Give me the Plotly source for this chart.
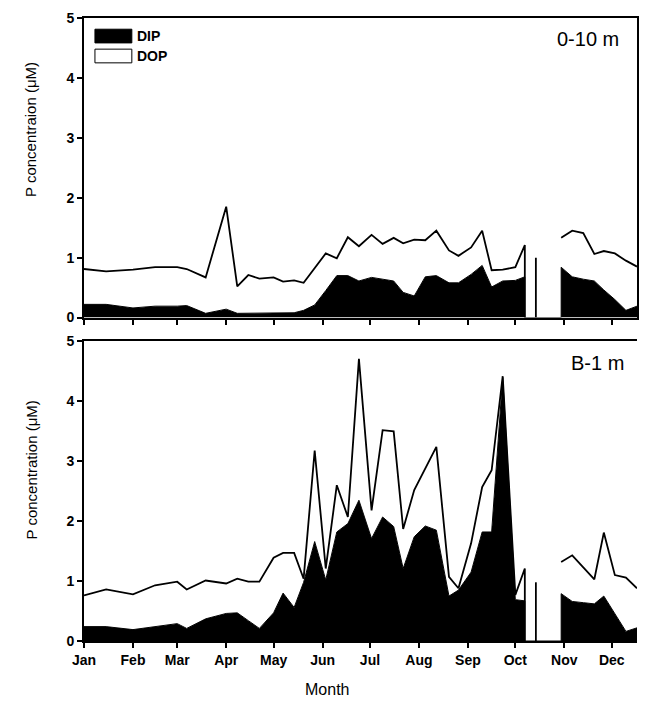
import plotly.graph_objects as go

# ---------------- data ----------------
# sampling dates (the Oct gap is drawn as zero values, with one isolated sample)
dates = [
    "2003-01-01", "2003-01-15", "2003-02-01", "2003-02-15", "2003-03-01", "2003-03-07",
    "2003-03-19", "2003-04-01", "2003-04-08", "2003-04-15", "2003-04-22", "2003-05-01",
    "2003-05-07", "2003-05-14", "2003-05-20", "2003-05-27", "2003-06-03", "2003-06-10",
    "2003-06-17", "2003-06-24", "2003-07-02", "2003-07-09", "2003-07-16", "2003-07-22",
    "2003-07-29", "2003-08-05", "2003-08-12", "2003-08-20", "2003-08-26", "2003-09-03",
    "2003-09-10", "2003-09-16", "2003-09-23", "2003-10-01", "2003-10-07", "2003-10-07",
    "2003-10-14", "2003-10-14", "2003-10-14", "2003-10-30", "2003-10-30", "2003-11-06",
    "2003-11-13", "2003-11-20", "2003-11-26", "2003-12-03", "2003-12-10", "2003-12-17",
]

# 0-10 m layer
dip_surface = [
    0.22, 0.22, 0.16, 0.19, 0.19, 0.20, 0.07, 0.14, 0.07, 0.07, 0.08, 0.07,
    0.08, 0.08, 0.12, 0.21, 0.45, 0.70, 0.70, 0.61, 0.67, 0.64, 0.61, 0.42,
    0.36, 0.68, 0.70, 0.58, 0.58, 0.72, 0.87, 0.51, 0.61, 0.62, 0.68, 0.0,
    0.0, 0.0, 0.0, 0.0, 0.84, 0.68, 0.64, 0.61, 0.46, 0.30, 0.12, 0.19,
]
dop_surface = [
    0.59, 0.55, 0.64, 0.65, 0.65, 0.61, 0.60, 1.71, 0.45, 0.64, 0.57, 0.60,
    0.52, 0.54, 0.46, 0.61, 0.62, 0.29, 0.64, 0.58, 0.71, 0.59, 0.72, 0.82,
    0.94, 0.61, 0.75, 0.54, 0.45, 0.45, 0.58, 0.28, 0.19, 0.22, 0.53, 0.0,
    0.0, 1.00, 0.0, 0.0, 0.49, 0.77, 0.77, 0.45, 0.65, 0.77, 0.83, 0.66,
]

# B-1 m layer
dip_bottom = [
    0.24, 0.24, 0.19, 0.24, 0.29, 0.21, 0.37, 0.46, 0.47, 0.34, 0.21, 0.47,
    0.80, 0.56, 0.98, 1.66, 1.02, 1.82, 1.96, 2.35, 1.71, 2.07, 1.91, 1.21,
    1.74, 1.92, 1.85, 0.75, 0.85, 1.15, 1.82, 1.82, 4.40, 0.69, 0.67, 0.0,
    0.0, 0.0, 0.0, 0.0, 0.79, 0.66, 0.64, 0.62, 0.75, 0.46, 0.16, 0.22,
]
dop_bottom = [
    0.52, 0.62, 0.59, 0.69, 0.70, 0.65, 0.64, 0.50, 0.57, 0.65, 0.78, 0.92,
    0.67, 0.91, 0.06, 1.52, 0.19, 0.78, 0.11, 2.36, 0.47, 1.45, 1.59, 0.66,
    0.78, 0.96, 1.39, 0.32, 0.03, 0.48, 0.75, 1.03, 0.02, 0.08, 0.54, 0.0,
    0.0, 0.98, 0.0, 0.0, 0.53, 0.77, 0.59, 0.41, 1.06, 0.64, 0.90, 0.66,
]

month_labels = ["Jan", "Feb", "Mar", "Apr", "May", "Jun",
                "Jul", "Aug", "Sep", "Oct", "Nov", "Dec"]
y_ticks = [0, 1, 2, 3, 4, 5]

FONT = "Liberation Sans, Arial, sans-serif"
month_vals = [f"2003-{i + 1:02d}-01" for i in range(len(month_labels))]


def outline_of(dip, dop):
    total = [a + b for a, b in zip(dip, dop)]
    outline = list(total)
    # break the outline where sampling resumes after the gap
    for i in range(len(total) - 1):
        if total[i] == 0 and total[i + 1] > 0 and dates[i] == dates[i + 1] and i > 0 and total[i - 1] == 0:
            outline[i] = None
    return total, outline


fig = go.Figure()
for dip, dop, xa, ya in [(dip_surface, dop_surface, "x2", "y2"),
                         (dip_bottom, dop_bottom, "x", "y")]:
    total, outline = outline_of(dip, dop)
    fig.add_trace(go.Scatter(x=dates, y=dip, xaxis=xa, yaxis=ya, mode="lines",
                             fill="tozeroy", fillcolor="black",
                             line=dict(color="black", width=1), showlegend=False,
                             name="DIP"))
    fig.add_trace(go.Scatter(x=dates, y=total, xaxis=xa, yaxis=ya, mode="lines",
                             fill="tonexty", fillcolor="white",
                             line=dict(color="rgba(0,0,0,0)", width=0), showlegend=False,
                             name="DOP"))
    fig.add_trace(go.Scatter(x=dates, y=outline, xaxis=xa, yaxis=ya, mode="lines",
                             connectgaps=False,
                             line=dict(color="black", width=1.8), showlegend=False,
                             hoverinfo="skip"))

xcommon = dict(type="date", range=["2003-01-01", "2003-12-17"],
               tickmode="array", tickvals=month_vals, ticktext=month_labels,
               ticks="outside", ticklen=5, tickwidth=1.5, tickcolor="black",
               showline=True, linecolor="black", linewidth=2,
               showgrid=False, zeroline=False,
               tickfont=dict(family=FONT, size=14, color="black", weight="bold"))
ycommon = dict(range=[0, 5], tickmode="array", tickvals=y_ticks,
               ticks="outside", ticklen=5, tickwidth=1.5, tickcolor="black",
               showline=True, linecolor="black", linewidth=2,
               showgrid=False, zeroline=False,
               tickfont=dict(family=FONT, size=14, color="black", weight="bold"))

fig.update_layout(
    width=649, height=705,
    margin=dict(l=84, r=10, t=17, b=64),
    paper_bgcolor="white", plot_bgcolor="white",
    xaxis=dict(xcommon, domain=[0, 1], anchor="y", mirror=True),
    yaxis=dict(ycommon, domain=[0, 0.4808], anchor="x", mirror=False),
    xaxis2=dict(xcommon, domain=[0, 1], anchor="y2", mirror=True, showticklabels=False),
    yaxis2=dict(ycommon, domain=[0.5192, 1], anchor="x2", mirror=True),
    showlegend=False,
)

# legend drawn in the upper panel
fig.add_shape(type="rect", xref="paper", yref="paper", x0=0.0198, x1=0.0865, y0=0.960, y1=0.982,
              fillcolor="black", line=dict(color="black", width=1))
fig.add_shape(type="rect", xref="paper", yref="paper", x0=0.0198, x1=0.0865, y0=0.928, y1=0.950,
              fillcolor="white", line=dict(color="black", width=1))
fig.add_annotation(text="DIP", xref="paper", yref="paper", x=0.093, y=0.971,
                   xanchor="left", yanchor="middle", showarrow=False,
                   font=dict(family=FONT, size=14, color="black", weight="bold"))
fig.add_annotation(text="DOP", xref="paper", yref="paper", x=0.093, y=0.939,
                   xanchor="left", yanchor="middle", showarrow=False,
                   font=dict(family=FONT, size=14, color="black", weight="bold"))

# panel labels
fig.add_annotation(text="0-10 m", xref="paper", yref="paper", x=0.971, y=0.966,
                   xanchor="right", yanchor="middle", showarrow=False,
                   font=dict(family=FONT, size=20, color="black"))
fig.add_annotation(text="B-1 m", xref="paper", yref="paper", x=0.980, y=0.4455,
                   xanchor="right", yanchor="middle", showarrow=False,
                   font=dict(family=FONT, size=20, color="black"))

# axis titles
fig.add_annotation(text="P concentraion (\u03bcM)", xref="paper", yref="paper",
                   x=-0.0955, y=0.8205, textangle=-90, showarrow=False,
                   xanchor="center", yanchor="middle",
                   font=dict(family=FONT, size=15, color="black"))
fig.add_annotation(text="P concentration (\u03bcM)", xref="paper", yref="paper",
                   x=-0.0955, y=0.274, textangle=-90, showarrow=False,
                   xanchor="center", yanchor="middle",
                   font=dict(family=FONT, size=15, color="black"))
fig.add_annotation(text="Month", xref="paper", yref="paper", x=0.44, y=-0.0785,
                   xanchor="center", yanchor="middle", showarrow=False,
                   font=dict(family=FONT, size=16, color="black"))

fig.write_html("out.html", config={"displayModeBar": False},
               post_script="document.body.style.margin='0';document.body.style.overflow='hidden';")
